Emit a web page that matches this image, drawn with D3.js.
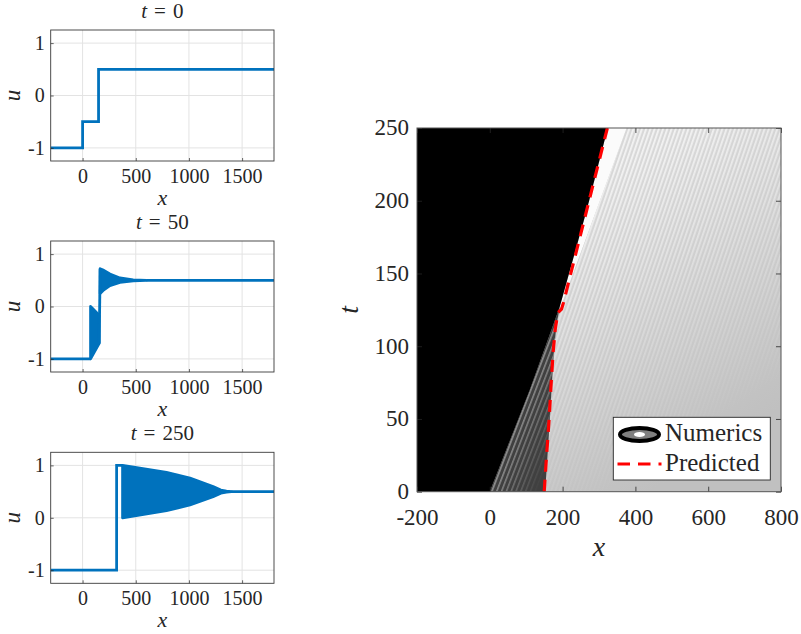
<!DOCTYPE html>
<html><head><meta charset="utf-8">
<script src="https://cdn.jsdelivr.net/npm/d3@7"></script>
<style>
body{margin:0;background:#fff}
svg{display:block}
</style>
</head><body>
<svg id="c" width="801" height="634"></svg>
<script>
// ---------------- DATA ----------------
const panelTimes = [0, 50, 250];
const xTicksLeft = [0, 500, 1000, 1500];
const yTicksLeft = [-1, 0, 1];
// plain profile segments [x,u]
const lines0 = [[[-300,-1],[0,-1],[0,-0.5],[150,-0.5],[150,0.5],[1800,0.5]]];
const lines50 = [[[-300,-1],[75,-1]], [[156,-0.705],[165,0.72]], [[600,0.5],[1800,0.5]]];
const lines250 = [[[-300,-1],[320,-1],[320,1],[376,1]], [[1400,0.5],[1800,0.5]]];
// oscillation envelopes [x, upper, lower]
const bands0 = [];
const bands50 = [
  [[75,0,-1],[156,-0.165,-0.705]],
  [[165,0.72,0.25],[200,0.69,0.32],[257,0.62,0.40],[351,0.545,0.46],[476,0.51,0.49],[600,0.5,0.5]]
];
const bands250 = [
  [[376,1,0],[789,0.865,0.135],[1010,0.756,0.244],[1227,0.596,0.404],[1300,0.53,0.47],[1353,0.51,0.49],[1400,0.5,0.5]]
];
// right panel (x,t)
const xTicksRight = [-200, 0, 200, 400, 600, 800];
const yTicksRight = [0, 50, 100, 150, 200, 250];
const fanLeftEdge = [[0,0],[110,70],[192,127]];
const fanRightEdge = [[152,0],[165,50],[170,72],[176,96],[182,112],[192,127]];
const blackEdge = [[192,127],[266,193.3],[324,250]];
const plateauEdge = [[195,127],[376,250]];
const predicted = [[149.5,0],[156,25],[163,50],[168,72],[174,96],[180,112],[187,123],[197,125.5],[202,129.6],[266,193.3],[323,250]];
const legendLabels = ["Numerics", "Predicted"];

// ---------------- DRAW ----------------
const FONT = '"Liberation Serif","DejaVu Serif",serif';
const svg = d3.select("#c");
const blue = "#0072BD";
const axisCol = "#262626";
const defs = svg.append("defs");
const T = sel => sel.style("font-family", FONT).attr("fill", axisCol);

const leftPanels = [
  {t: panelTimes[0], top: 30, lines: lines0, bands: bands0},
  {t: panelTimes[1], top: 241, lines: lines50, bands: bands50},
  {t: panelTimes[2], top: 452.3, lines: lines250, bands: bands250}
];
const L = 50.7, R = 274, H = 131;

leftPanels.forEach((p, i) => {
  const x = d3.scaleLinear().domain([-300, 1800]).range([L, R]);
  const y = d3.scaleLinear().domain([-1.25, 1.25]).range([p.top + H, p.top]);
  const g = svg.append("g");
  g.append("rect").attr("x", L).attr("y", p.top).attr("width", R - L).attr("height", H).attr("fill", "#fff");
  g.selectAll(".gx").data(xTicksLeft).enter().append("line")
    .attr("x1", d => x(d)).attr("x2", d => x(d)).attr("y1", p.top).attr("y2", p.top + H)
    .attr("stroke", "#e3e3e3").attr("stroke-width", 1);
  g.selectAll(".gy").data(yTicksLeft).enter().append("line")
    .attr("y1", d => y(d)).attr("y2", d => y(d)).attr("x1", L).attr("x2", R)
    .attr("stroke", "#e3e3e3").attr("stroke-width", 1);
  const clipId = "clipL" + i;
  defs.append("clipPath").attr("id", clipId).append("rect")
    .attr("x", L).attr("y", p.top).attr("width", R - L).attr("height", H);
  const dg = g.append("g").attr("clip-path", `url(#${clipId})`);
  const area = d3.area().x(d => x(d[0])).y0(d => y(d[2])).y1(d => y(d[1]));
  p.bands.forEach(b => {
    dg.append("path").attr("d", area(b)).attr("fill", blue)
      .attr("stroke", blue).attr("stroke-width", 2.8).attr("stroke-linejoin", "round");
  });
  const line = d3.line().x(d => x(d[0])).y(d => y(d[1]));
  p.lines.forEach(l => {
    dg.append("path").attr("d", line(l)).attr("fill", "none")
      .attr("stroke", blue).attr("stroke-width", 2.8).attr("stroke-linejoin", "miter");
  });
  const xa = d3.axisBottom(x).tickValues(xTicksLeft).tickSize(-3).tickPadding(7).tickFormat(d => String(d));
  const ya = d3.axisLeft(y).tickValues(yTicksLeft).tickSize(-3).tickPadding(6).tickFormat(d => String(d));
  const gx = g.append("g").attr("transform", `translate(0,${p.top + H})`).call(xa);
  const gy = g.append("g").attr("transform", `translate(${L},0)`).call(ya);
  [gx, gy].forEach(a => {
    a.select(".domain").remove();
    a.selectAll("line").attr("stroke", axisCol).attr("stroke-width", 0.7);
    T(a.selectAll("text").attr("font-size", 20));
  });
  gx.selectAll("text").attr("dy", null).attr("y", 22).attr("dominant-baseline", "alphabetic");
  g.append("rect").attr("x", L).attr("y", p.top).attr("width", R - L).attr("height", H)
    .attr("fill", "none").attr("stroke", "#3a3a3a").attr("stroke-width", 0.9);
  const title = T(g.append("text")).attr("x", (L + R) / 2).attr("y", p.top - 12)
    .attr("text-anchor", "middle").attr("font-size", 21);
  title.append("tspan").attr("font-style", "italic").text("t");
  title.append("tspan").attr("dx", 7).text("=");
  title.append("tspan").attr("dx", 7).text(String(p.t));
  T(g.append("text")).attr("x", (L + R) / 2).attr("y", p.top + H + 44)
    .attr("text-anchor", "middle").attr("font-size", 22).attr("font-style", "italic").text("x");
  T(g.append("text")).attr("transform", `translate(20,${p.top + H / 2}) rotate(-90)`)
    .attr("text-anchor", "middle").attr("font-size", 23).attr("font-style", "italic").text("u");
});

// ---------------- RIGHT PANEL ----------------
const RL = 417, RR = 781, RT = 128, RB = 491.7;
const xs = d3.scaleLinear().domain([-200, 800]).range([RL, RR]);
const ts = d3.scaleLinear().domain([0, 250]).range([RB, RT]);
const P = d => [xs(d[0]), ts(d[1])];
const poly = pts => "M" + pts.map(P).map(q => q.join(",")).join("L") + "Z";

defs.append("clipPath").attr("id", "clipR").append("rect")
  .attr("x", RL).attr("y", RT).attr("width", RR - RL).attr("height", RB - RT);

const pat = defs.append("pattern").attr("id", "stripesW").attr("patternUnits", "userSpaceOnUse")
  .attr("width", 4).attr("height", 40).attr("patternTransform", "rotate(19)");
pat.append("rect").attr("x", 0).attr("y", 0).attr("width", 1.8).attr("height", 40).attr("fill", "#ffffff");
const pat2 = defs.append("pattern").attr("id", "stripesF").attr("patternUnits", "userSpaceOnUse")
  .attr("width", 4.5).attr("height", 40).attr("patternTransform", "rotate(21)");
pat2.append("rect").attr("x", 0).attr("y", 0).attr("width", 1.6).attr("height", 40).attr("fill", "#a8a8a8");

const g1 = defs.append("linearGradient").attr("id", "gradDSW").attr("gradientUnits", "userSpaceOnUse")
  .attr("x1", 610).attr("y1", 170).attr("x2", 760).attr("y2", 400);
g1.append("stop").attr("offset", 0).attr("stop-color", "#fff").attr("stop-opacity", 1);
g1.append("stop").attr("offset", 0.5).attr("stop-color", "#fff").attr("stop-opacity", 0.45);
g1.append("stop").attr("offset", 1).attr("stop-color", "#fff").attr("stop-opacity", 0);
const m1 = defs.append("mask").attr("id", "maskDSW").attr("maskUnits", "userSpaceOnUse")
  .attr("x", 0).attr("y", 0).attr("width", 801).attr("height", 634);
m1.append("rect").attr("x", RL).attr("y", RT).attr("width", RR - RL).attr("height", RB - RT).attr("fill", "url(#gradDSW)");

const g2 = defs.append("linearGradient").attr("id", "gradFan").attr("gradientUnits", "userSpaceOnUse")
  .attr("x1", 500).attr("y1", 465).attr("x2", 500 + 45 * 0.935).attr("y2", 465 + 45 * 0.353);
g2.append("stop").attr("offset", 0).attr("stop-color", "#fff").attr("stop-opacity", 0.8);
g2.append("stop").attr("offset", 1).attr("stop-color", "#fff").attr("stop-opacity", 0);
const m2 = defs.append("mask").attr("id", "maskFan").attr("maskUnits", "userSpaceOnUse")
  .attr("x", 0).attr("y", 0).attr("width", 801).attr("height", 634);
m2.append("rect").attr("x", RL).attr("y", RT).attr("width", RR - RL).attr("height", RB - RT).attr("fill", "url(#gradFan)");

const g3 = defs.append("linearGradient").attr("id", "gradGlow").attr("gradientUnits", "userSpaceOnUse")
  .attr("x1", 610).attr("y1", 190).attr("x2", 760).attr("y2", 420);
g3.append("stop").attr("offset", 0).attr("stop-color", "#d8d8d8");
g3.append("stop").attr("offset", 1).attr("stop-color", "#c0c0c0");

const rg = svg.append("g").attr("clip-path", "url(#clipR)");
rg.append("rect").attr("x", RL).attr("y", RT).attr("width", RR - RL).attr("height", RB - RT).attr("fill", "#c0c0c0");

const dswPoly = [].concat(fanRightEdge, plateauEdge, [[800, 250], [800, 0]]);
rg.append("path").attr("d", poly(dswPoly)).attr("fill", "url(#gradGlow)");
rg.append("path").attr("d", poly(dswPoly)).attr("fill", "url(#stripesW)").attr("mask", "url(#maskDSW)").attr("opacity", 0.7);

const plateauPoly = [].concat(blackEdge, plateauEdge.slice().reverse());
rg.append("path").attr("d", poly(plateauPoly)).attr("fill", "#fbfbfb");

const fanPoly = [].concat(fanLeftEdge, fanRightEdge.slice().reverse());
rg.append("path").attr("d", poly(fanPoly)).attr("fill", "#404040");
rg.append("path").attr("d", poly(fanPoly)).attr("fill", "url(#stripesF)").attr("mask", "url(#maskFan)");

const blackPoly = [].concat([[-200, 0]], fanLeftEdge, blackEdge.slice(1), [[-200, 250]]);
rg.append("path").attr("d", poly(blackPoly)).attr("fill", "#000");

rg.append("path").attr("d", d3.line().x(d => xs(d[0])).y(d => ts(d[1]))(predicted))
  .attr("fill", "none").attr("stroke", "#ff0000").attr("stroke-width", 3.2)
  .attr("stroke-dasharray", "12,8");

const rax = [
  {ax: d3.axisBottom(xs).tickValues(xTicksRight).tickSize(-5).tickPadding(9), tr: `translate(0,${RB})`, lab: true},
  {ax: d3.axisTop(xs).tickValues(xTicksRight).tickSize(-5), tr: `translate(0,${RT})`, lab: false},
  {ax: d3.axisLeft(ts).tickValues(yTicksRight).tickSize(-5).tickPadding(8), tr: `translate(${RL},0)`, lab: true},
  {ax: d3.axisRight(ts).tickValues(yTicksRight).tickSize(-5), tr: `translate(${RR},0)`, lab: false}
];
rax.forEach((a, i) => {
  a.ax.tickFormat(d => String(d));
  const gg = svg.append("g").attr("transform", a.tr).call(a.ax);
  gg.select(".domain").remove();
  gg.selectAll("line").attr("stroke", axisCol).attr("stroke-width", 0.8);
  if (!a.lab) gg.selectAll("text").remove();
  else T(gg.selectAll("text").attr("font-size", 23));
  if (i === 0) gg.selectAll("text").attr("dy", null).attr("y", 33).attr("dominant-baseline", "alphabetic");
  if (i === 2) gg.selectAll("text").attr("dy", "0.3em");
});
svg.append("rect").attr("x", RL).attr("y", RT).attr("width", RR - RL).attr("height", RB - RT)
  .attr("fill", "none").attr("stroke", "#555").attr("stroke-width", 1);
T(svg.append("text")).attr("x", (RL + RR) / 2).attr("y", 556).attr("text-anchor", "middle")
  .attr("font-size", 28).attr("font-style", "italic").text("x");
T(svg.append("text")).attr("transform", `translate(358,${(RT + RB) / 2}) rotate(-90)`)
  .attr("text-anchor", "middle").attr("font-size", 28).attr("font-style", "italic").text("t");

const lg = svg.append("g");
lg.append("rect").attr("x", 613.3).attr("y", 417.3).attr("width", 157).attr("height", 62.7)
  .attr("fill", "#fff").attr("stroke", "#262626").attr("stroke-width", 0.9);
lg.append("ellipse").attr("cx", 639.5).attr("cy", 434.5).attr("rx", 19.5).attr("ry", 6.5)
  .attr("fill", "#808080").attr("stroke", "#000").attr("stroke-width", 4);
lg.append("ellipse").attr("cx", 639.5).attr("cy", 434.5).attr("rx", 5.5).attr("ry", 2.6).attr("fill", "#fff");
lg.append("line").attr("x1", 617.5).attr("x2", 661.5).attr("y1", 464).attr("y2", 464)
  .attr("stroke", "#ff0000").attr("stroke-width", 3.2).attr("stroke-dasharray", "12.5,8");
T(lg.selectAll(".lt").data(legendLabels).enter().append("text"))
  .attr("x", 665).attr("y", (d, i) => 441 + i * 30).attr("font-size", 25).text(d => d);
</script>
</body></html>
